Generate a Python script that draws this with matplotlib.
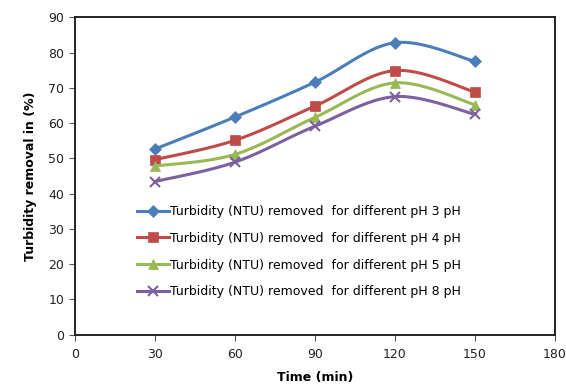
import numpy as np
import matplotlib
matplotlib.use("Agg")
import matplotlib.pyplot as plt
from matplotlib.lines import Line2D

time_min = [30, 60, 90, 120, 150]
ph3 = [52.6, 61.7, 71.6, 82.8, 77.5]
ph4 = [49.6, 55.1, 64.8, 74.9, 68.8]
ph5 = [47.8, 51.1, 61.6, 71.4, 65.2]
ph8 = [43.4, 48.9, 59.1, 67.5, 62.5]
labels = ["Turbidity (NTU) removed  for different pH 3 pH",
          "Turbidity (NTU) removed  for different pH 4 pH",
          "Turbidity (NTU) removed  for different pH 5 pH",
          "Turbidity (NTU) removed  for different pH 8 pH"]
x_ticks = [0, 30, 60, 90, 120, 150, 180]
y_ticks = [0, 10, 20, 30, 40, 50, 60, 70, 80, 90]

colors = ["#4A7EBB", "#BE4B48", "#98B954", "#7D60A0"]
markers = ["D", "s", "^", "x"]
msizes = [6, 7, 7, 7]


def smooth(x, y, n=30):
    x = np.asarray(x, float)
    y = np.asarray(y, float)
    px = np.concatenate([[x[0]], x, [x[-1]]])
    py = np.concatenate([[y[0]], y, [y[-1]]])
    xs, ys = [], []
    t = np.linspace(0, 1, n)
    for i in range(1, len(px) - 2):
        p0 = np.array([px[i], py[i]])
        p3 = np.array([px[i + 1], py[i + 1]])
        p1 = p0 + (np.array([px[i + 1], py[i + 1]]) - np.array([px[i - 1], py[i - 1]])) / 6
        p2 = p3 - (np.array([px[i + 2], py[i + 2]]) - np.array([px[i], py[i]])) / 6
        b = ((1 - t) ** 3)[:, None] * p0 + (3 * (1 - t) ** 2 * t)[:, None] * p1 \
            + (3 * (1 - t) * t ** 2)[:, None] * p2 + (t ** 3)[:, None] * p3
        xs.extend(b[:, 0])
        ys.extend(b[:, 1])
    return xs, ys


fig = plt.figure(figsize=(5.66, 3.85), dpi=100)
ax = fig.add_axes([0.132, 0.131, 0.8486, 0.824])

handles = []
for ys, c, m, ms, lab in zip([ph3, ph4, ph5, ph8], colors, markers, msizes, labels):
    sx, sy = smooth(time_min, ys)
    ax.plot(sx, sy, color=c, lw=2.2, solid_capstyle="round")
    ax.plot(time_min, ys, linestyle="none", marker=m, color=c, ms=ms,
            mew=1.5 if m == "x" else 0.5)
    handles.append(Line2D([0], [0], color=c, lw=2.2, marker=m, ms=ms,
                          mew=1.5 if m == "x" else 0.5))

ax.set_xlim(0, 180)
ax.set_ylim(0, 90)
ax.set_xticks(x_ticks)
ax.set_yticks(y_ticks)
ax.tick_params(direction="out", length=4, width=0.8, labelsize=9, color="#555555",
               labelcolor="#222222")
ax.tick_params(axis="x", pad=6)
for s in ax.spines.values():
    s.set_linewidth(1.4)
    s.set_color("#222222")
ax.set_xlabel("Time (min)", fontsize=9, fontweight="bold", labelpad=7)
ax.set_ylabel("Turbidity removal in (%)", fontsize=9, fontweight="bold", labelpad=8)

leg = ax.legend(handles, labels, loc="upper left", bbox_to_anchor=(0.12, 0.424),
                frameon=False, fontsize=9.0, handlelength=2.5, handletextpad=0.1,
                labelspacing=1.1, borderaxespad=0)

fig.savefig("out.png", dpi=100)
